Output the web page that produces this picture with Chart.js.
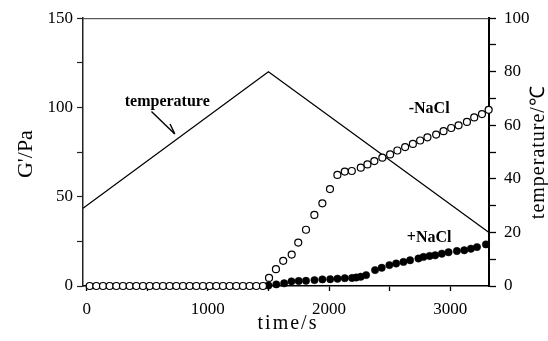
<!DOCTYPE html>
<html><head><meta charset="utf-8">
<script src="https://cdn.jsdelivr.net/npm/chart.js@4"></script>
<style>html,body{margin:0;padding:0;background:#fff}#wrap{width:548px;height:341px}</style>
</head><body><div id="wrap"><canvas id="c" width="548" height="341"></canvas></div>
<script>
// ---- data ----
const timeOpen = [25,80,135,190,245,300,355,410,465,520,575,630,685,740,795,850,905,960,1015,1070,1125,1180,1235,1290,1345,1400,1455,
  1505,1562,1622,1692,1746,1810,1879,1945,2008,2069,2130,2188,2262,2317,2374,2440,2504,2564,2628,2692,2752,2812,2884,2945,3008,3069,3138,3198,3262,3317];
const gOpen = [0,0,0,0,0,0,0,0,0,0,0,0,0,0,0,0,0,0,0,0,0,0,0,0,0,0,0,
  4.5,9.4,14.1,17.6,24.3,31.5,39.8,46.3,54.3,62.2,64.1,64.4,66.3,68.1,70,71.9,73.7,75.9,77.8,79.6,81.5,83.3,84.8,86.7,88.5,90,91.9,94.4,96.3,98.7];
const timeFilled = [1500,1565,1630,1690,1750,1810,1880,1945,2010,2070,2130,2190,2225,2262,2306,2380,2435,2498,2554,2614,2669,2738,2779,2830,2876,2931,2986,3055,3116,3171,3221,3295];
const gFilled = [0.3,0.9,1.5,2.6,2.8,2.9,3.3,3.7,3.8,4.1,4.4,4.5,4.8,5.2,6.1,8.9,10.2,11.7,12.6,13.5,14.4,15.4,16.3,16.8,17.2,18.1,18.9,19.6,20,20.9,21.8,23.3];
const tempTime = [-30,1500,3320];
const tempC = [29,80,20];
const xTicks = [0,500,1000,1500,2000,2500,3000];
const xLabels = [0,1000,2000,3000];
const gTicks = [0,25,50,75,100,125,150];
const gLabels = [0,50,100,150];
const tTicks = [0,10,20,30,40,50,60,70,80,90,100];
const tLabels = [0,20,40,60,80,100];
const notes = [
  {text:'temperature', t:665, g:103},
  {text:'-NaCl', t:2826, g:99.4},
  {text:'+NaCl', t:2826, g:27}
];
const arrowFrom = [535, 97.8];
const arrowTo = [727, 85.2];
const xTitle = 'time/s', yTitle = "G'/Pa", y2Title = 'temperature/\u2103';

// ---- chart ----
const SERIF = '"Liberation Serif", "Times New Roman", serif';
const tickFont = {family: SERIF, size: 17};

function pts(xs, ys){ return xs.map((x,i)=>({x:x, y:ys[i]})); }

const deco = {
  id: 'deco',
  afterDraw(chart){
    const ctx = chart.ctx, a = chart.chartArea;
    const sx = chart.scales.x, sy = chart.scales.y;
    ctx.save();
    // top frame line
    ctx.strokeStyle = '#333'; ctx.lineWidth = 1;
    ctx.beginPath(); ctx.moveTo(a.left, a.top + 0.5); ctx.lineTo(a.right, a.top + 0.5); ctx.stroke();
    // axis titles
    ctx.fillStyle = '#000';
    ctx.textAlign = 'center'; ctx.textBaseline = 'middle';
    ctx.font = '22px ' + SERIF;
    ctx.save(); ctx.translate(26, (a.top + a.bottom)/2 + 2); ctx.rotate(-Math.PI/2);
    ctx.fillText(yTitle, 0, 0); ctx.restore();
    ctx.font = '20px ' + SERIF;
    ctx.save(); ctx.translate(539, (a.top + a.bottom)/2); ctx.rotate(-Math.PI/2);
    ctx.letterSpacing = '1px';
    ctx.fillText(y2Title, 0, 0); ctx.restore();
    ctx.save(); ctx.letterSpacing = '2px';
    ctx.fillText(xTitle, (a.left + a.right)/2 + 2, 324); ctx.restore();
    // notes
    ctx.font = 'bold 16px ' + SERIF;
    notes.forEach(n => ctx.fillText(n.text, sx.getPixelForValue(n.t), sy.getPixelForValue(n.g)));
    // arrow
    const x1 = sx.getPixelForValue(arrowFrom[0]), y1 = sy.getPixelForValue(arrowFrom[1]);
    const x2 = sx.getPixelForValue(arrowTo[0]), y2 = sy.getPixelForValue(arrowTo[1]);
    ctx.strokeStyle = '#000'; ctx.lineWidth = 1.4;
    ctx.beginPath(); ctx.moveTo(x1, y1); ctx.lineTo(x2, y2); ctx.stroke();
    const ang = Math.atan2(y2 - y1, x2 - x1);
    ctx.beginPath(); ctx.moveTo(x2, y2);
    ctx.lineTo(x2 - 11*Math.cos(ang + 0.36), y2 - 11*Math.sin(ang + 0.36));
    ctx.stroke();
    ctx.restore();
  }
};

new Chart(document.getElementById('c'), {
  type: 'scatter',
  data: {
    datasets: [
      {type:'line', label:'temperature', yAxisID:'y2', data: pts(tempTime, tempC),
       borderColor:'#000', borderWidth:1.3, pointRadius:0, tension:0, fill:false, order:3},
      {label:'+NaCl', yAxisID:'y', data: pts(timeFilled, gFilled),
       pointRadius:3.7, pointStyle:'circle', backgroundColor:'#000', borderColor:'#000', borderWidth:0.5, clip:false, order:2},
      {label:'-NaCl', yAxisID:'y', data: pts(timeOpen, gOpen),
       pointRadius:3.5, pointStyle:'circle', backgroundColor:'#fff', borderColor:'#000', borderWidth:1.2, clip:false, order:1}
    ]
  },
  options: {
    responsive:false, animation:false, devicePixelRatio:1,
    layout:{padding:{top:16, left:0, right:0, bottom:0}},
    plugins:{legend:{display:false}, tooltip:{enabled:false}},
    scales:{
      x:{type:'linear', position:'bottom', min:-30, max:3320,
         afterBuildTicks: s => { s.ticks = xTicks.map(v=>({value:v})); },
         ticks:{callback: v => xLabels.includes(v) ? String(v) : '', font:tickFont, color:'#000', padding:8, maxRotation:0, autoSkip:false},
         grid:{drawOnChartArea:false, tickLength:5, color:'#000', tickWidth:1.3},
         border:{color:'#000', width:1.5},
         afterFit: s => { s.height = 55; }},
      y:{type:'linear', position:'left', min:0, max:150,
         afterBuildTicks: s => { s.ticks = gTicks.map(v=>({value:v})); },
         ticks:{callback: v => gLabels.includes(v) ? String(v) : '', font:tickFont, color:'#000', padding:4, autoSkip:false},
         grid:{drawOnChartArea:false, tickLength:6, color:'#222', tickWidth:1.2},
         border:{color:'#222', width:1.5},
         afterFit: s => { s.width = 83; }},
      y2:{type:'linear', position:'right', min:0, max:100,
         afterBuildTicks: s => { s.ticks = tTicks.map(v=>({value:v})); },
         ticks:{callback: v => tLabels.includes(v) ? String(v) : '', font:tickFont, color:'#000', padding:8, autoSkip:false},
         grid:{drawOnChartArea:false, tickLength:7, color:'#000', tickWidth:1.3},
         border:{color:'#000', width:2},
         afterFit: s => { s.width = 59; }}
    }
  },
  plugins:[deco]
});
</script>
</body></html>
